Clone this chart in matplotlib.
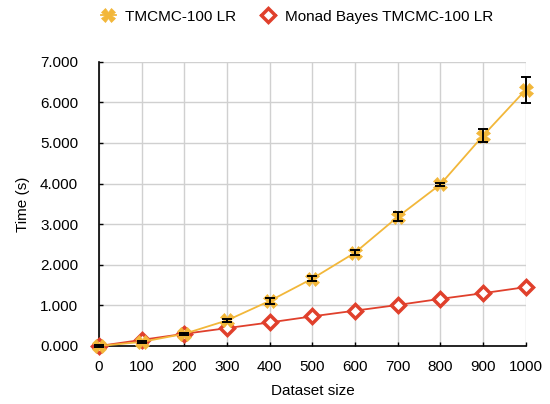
import matplotlib
matplotlib.use("Agg")
import matplotlib.pyplot as plt
from matplotlib.ticker import FuncFormatter

dataset_size = [0, 100, 200, 300, 400, 500, 600, 700, 800, 900, 1000]
tmcmc_time = [0.0, 0.10, 0.30, 0.63, 1.11, 1.66, 2.30, 3.18, 3.98, 5.18, 6.31]
tmcmc_err = [0.02, 0.02, 0.03, 0.03, 0.08, 0.06, 0.06, 0.11, 0.04, 0.16, 0.32]
monad_time = [0.0, 0.15, 0.30, 0.44, 0.58, 0.73, 0.87, 1.01, 1.16, 1.30, 1.45]
label_tmcmc = "TMCMC-100 LR"
label_monad = "Monad Bayes TMCMC-100 LR"
x_label = "Dataset size"
y_label = "Time (s)"
y_ticks = [0, 1, 2, 3, 4, 5, 6, 7]

plt.rcParams['font.family'] = ['Liberation Sans', 'DejaVu Sans']

yellow = "#F2B73A"
red = "#E0402C"

fig = plt.figure(figsize=(5.5, 4.04), dpi=100)
ax = fig.add_axes([0.18, 0.1436, 0.776, 0.7036])

ax.plot(dataset_size, monad_time, color=red, lw=1.3, marker='D', ms=7.5,
        mfc='white', mec=red, mew=2.5, label=label_monad, clip_on=False, zorder=3)
ax.plot(dataset_size, tmcmc_time, color=yellow, lw=1.3, marker='X', ms=10,
        mfc=yellow, mec=yellow, mew=0.5, label=label_tmcmc, clip_on=False, zorder=4)
ax.errorbar(dataset_size, tmcmc_time, yerr=tmcmc_err, fmt='none', ecolor='black',
            elinewidth=1.4, capsize=3.5, capthick=1.4, clip_on=False, zorder=5)

ax.set_xlim(0, 1000)
ax.set_ylim(0, 7)
ax.set_xticks(dataset_size)
ax.set_yticks(y_ticks)
ax.yaxis.set_major_formatter(FuncFormatter(lambda v, p: f"{v:.3f}"))
ax.grid(True, color='#d0d0d0', lw=1)
ax.set_axisbelow(True)
for s in ['top', 'right']:
    ax.spines[s].set_visible(False)
for s in ['left', 'bottom']:
    ax.spines[s].set_color('black')
    ax.spines[s].set_linewidth(1.2)
ax.tick_params(axis='both', labelsize=11, length=3, width=1, color='black', direction='in')
ax.tick_params(axis='y', pad=15)
ax.tick_params(axis='x', pad=10)
ax.set_xlabel(x_label, fontsize=11, labelpad=7)
ax.set_ylabel(y_label, fontsize=11, labelpad=7)

h, l = ax.get_legend_handles_labels()
fig.legend([h[1], h[0]], [l[1], l[0]], loc='upper center', bbox_to_anchor=(0.54, 1.01),
           ncol=2, frameon=False, fontsize=11, handlelength=1.0, handletextpad=0.6,
           columnspacing=1.6)

fig.savefig("out.png", dpi=100)
